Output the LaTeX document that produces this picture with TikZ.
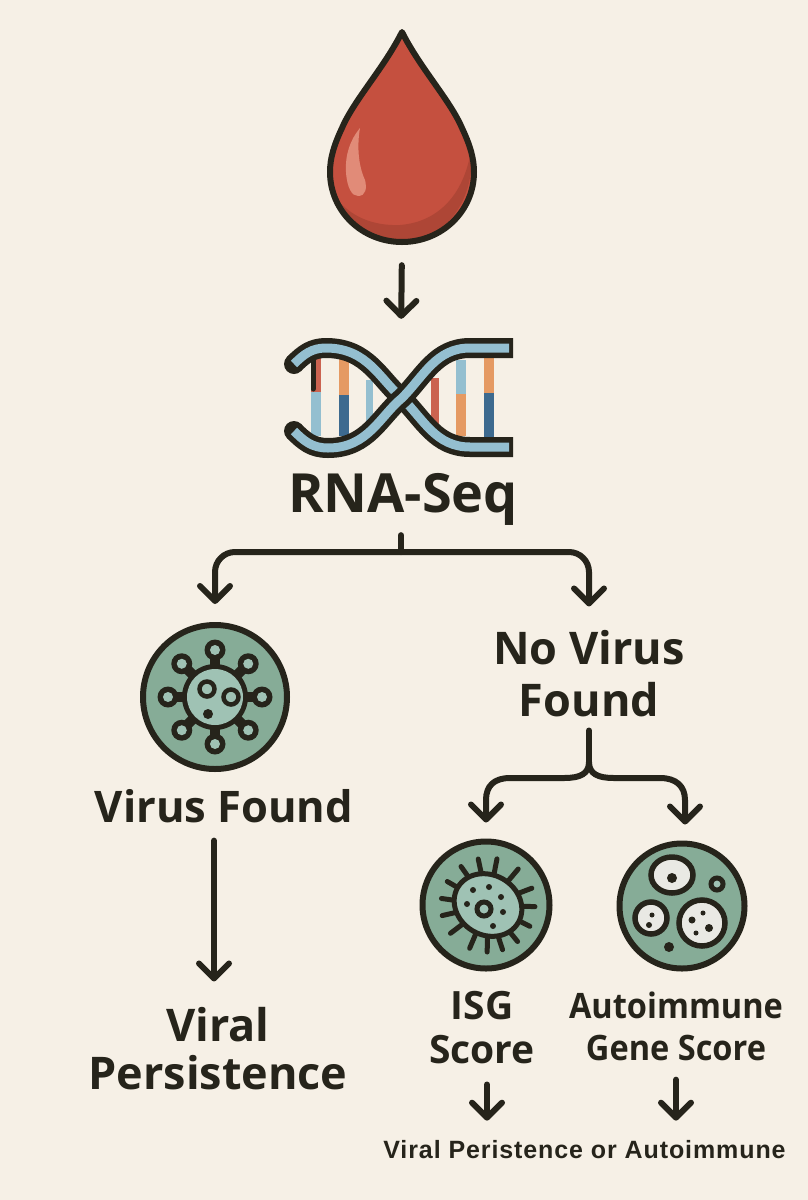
\documentclass[tikz,border=0pt]{standalone}
\usepackage{fontspec}
\setmainfont{Open Sans}
\newfontfamily\arialf[LetterSpace=3.6]{Liberation Sans}
\newfontfamily\narrowf[FakeStretch=0.93]{Open Sans}
\usetikzlibrary{arrows.meta}
\definecolor{ink}{HTML}{26241B}
\definecolor{paper}{HTML}{F6F0E6}
\definecolor{blood}{HTML}{C5503F}
\definecolor{bloodd}{HTML}{AE4636}
\definecolor{bloodl}{HTML}{E18B78}
\definecolor{green}{HTML}{86AC97}
\definecolor{greenl}{HTML}{9FC2B4}
\definecolor{cellw}{HTML}{E9E9E4}
\definecolor{sky}{HTML}{94BFD0}
\definecolor{navy}{HTML}{3D6A8F}
\definecolor{orng}{HTML}{E59A63}
\definecolor{redb}{HTML}{CB6350}
\tikzset{
  x=1pt,y=-1pt,
  flow/.style={draw=ink,line width=6pt,line cap=round,line join=round,-{Straight Barb[length=15pt,width=30pt,round]}},
  stem/.style={draw=ink,line width=6pt,line cap=round,line join=round},
  lab/.style 2 args={text=ink,inner sep=0pt,align=center,font=\bfseries\fontsize{#1}{#2}\selectfont},
  disc/.style={circle,draw=ink,fill=green,line width=6pt,inner sep=0pt,minimum size=#1},
  box/.style={inner sep=0pt,minimum width=#1},
  cellb/.style={draw=ink,fill=cellw,line width=5.5pt},
  strandk/.style={draw=ink,line width=20pt,line cap=butt,line join=round},
  strandb/.style={draw=sky,line width=9pt,line cap=butt,line join=round}
}
\newcommand{\dropshape}{(402,32) .. controls (384,68) and (354,100) .. (342,128) .. controls (334,145) and (330,158) .. (330,172) .. controls (330,211) and (362,242) .. (402,242) .. controls (442,242) and (474,211) .. (474,172) .. controls (474,158) and (470,145) .. (462,128) .. controls (450,100) and (420,68) .. (402,32) -- cycle}
\newcommand{\strandA}{(294,364) .. controls (304,354) and (312,348) .. (326,348) .. controls (368,348) and (380,380) .. (402,398) .. controls (424,420) and (436,447) .. (470,447) -- (513,447)}
\newcommand{\strandAb}{(294,364) .. controls (304,354) and (312,348) .. (326,348) .. controls (368,348) and (380,380) .. (402,398) .. controls (424,420) and (436,447) .. (470,447) -- (509,447)}
\newcommand{\strandB}{(294,431) .. controls (304,441) and (312,448) .. (328,448) .. controls (368,448) and (380,416) .. (402,398) .. controls (424,376) and (436,348) .. (470,348) -- (513,348)}
\newcommand{\strandBb}{(294,431) .. controls (304,441) and (312,448) .. (328,448) .. controls (368,448) and (380,416) .. (402,398) .. controls (424,376) and (436,348) .. (470,348) -- (509,348)}
\begin{document}
\begin{tikzpicture}
\useasboundingbox[fill=paper] (0,0) rectangle (808,1200);

% blood drop
\node[box=146,minimum height=216] (drop) at (402,137) {};
\fill[blood] \dropshape;
\fill[bloodd] (471,150) .. controls (476,205) and (440,242) .. (402,242) .. controls (375,242) and (345,228) .. (334,195) .. controls (350,218) and (375,226) .. (400,225) .. controls (438,222) and (464,195) .. (471,150) -- cycle;
\fill[bloodl] (360,128) .. controls (350,140) and (345,155) .. (346,172) .. controls (347,188) and (352,196) .. (358,196) .. controls (366,196) and (367,188) .. (365,180) .. controls (358,165) and (357,145) .. (360,128) -- cycle;
\draw[ink,line width=6pt,line join=round] \dropshape;

% DNA helix
\node[box=226,minimum height=114] (dna) at (401,396) {};
\fill[redb] (311,356) rectangle (321,392);
\fill[sky] (311,392) rectangle (321,436);
\fill[orng] (339,356) rectangle (349,395);
\fill[navy] (339,395) rectangle (349,436);
\fill[sky] (366,380) rectangle (373,424);
\fill[redb] (431,378) rectangle (439,424);
\fill[sky] (456,360) rectangle (466,394);
\fill[orng] (456,394) rectangle (466,436);
\fill[orng] (484,356) rectangle (494,393);
\fill[navy] (484,393) rectangle (494,438);
\draw[ink,line width=5pt,line cap=round] (313,358) -- (313,389);
\fill[ink] (294,364) circle (10);
\fill[ink] (294,431) circle (10);
\draw[strandk] \strandA;
\draw[strandb] \strandAb;
\draw[strandk] \strandB;
\draw[strandb] \strandBb;

% RNA-Seq text
\node[lab={54}{60},anchor=base] (rna) at (403,512) {RNA-Seq};
\coordinate (jr) at (401,552);

% virus icon
\node[disc=144] (virus) at (215,697) {};
\foreach \a in {0,45,...,315}{
  \draw[ink,line width=10pt] ({215+25*cos(\a)},{697-25*sin(\a)}) -- ({215+45*cos(\a)},{697-45*sin(\a)});
  \fill[ink] ({215+47*cos(\a)},{697-47*sin(\a)}) circle (10.5);
}
\fill[ink] (215,697) circle (33);
\foreach \a in {0,45,...,315}{
  \fill[greenl] ({215+47*cos(\a)},{697-47*sin(\a)}) circle (5);
}
\fill[greenl] (215,697) circle (28);
\draw[ink,fill=greenl,line width=4.5pt] (207,689) circle (7.5);
\draw[ink,fill=greenl,line width=4.5pt] (231,697) circle (7.5);
\fill[ink] (208,714) circle (5);

% labels left
\node[lab={43.5}{50},anchor=base] (found) at (224,822) {Virus Found};
\node[lab={45}{48}] (persist) at (218,1049) {Viral\\Persistence};

% no virus
\node[lab={45}{52}] (novirus) at (589,674) {No Virus\\Found};
\coordinate (jn) at (589,762);

% ISG icon
\node[disc=127] (isgc) at (486,905) {};
\foreach \a in {125,102,79,50,21,-2,-27,-51,-72,-91,-113,-143,-167,172,150}{
  \draw[ink,line width=5pt,line cap=round] ({488+28*cos(\a)},{905-28*sin(\a)}) -- ({488+47*cos(\a)},{905-47*sin(\a)});
}
\draw[ink,fill=greenl,line width=5pt,rotate around={-30:(488,905)}] (488,905) ellipse (35 and 30);
\draw[ink,fill=greenl,line width=5pt] (484,909) circle (7);
\foreach \p in {(473,890),(489,887),(501,897),(467,904),(503,912),(493,926)}{\fill[ink] \p circle (3);}

% Autoimmune icon
\node[disc=125] (autoc) at (682,906) {};
\draw[cellb] (672,875) ellipse (21 and 18);
\fill[ink] (672,878) circle (5);
\draw[ink,fill=greenl,line width=5pt] (717,884) circle (6);
\draw[cellb] (651,918) ellipse (16 and 16);
\fill[ink] (652,915) circle (2.5);
\fill[ink] (649,925) circle (3);
\draw[cellb] (702,923) ellipse (23 and 23);
\fill[ink] (703,913) circle (2.5);
\fill[ink] (692,920) circle (3.5);
\fill[ink] (709,928) circle (4);
\fill[ink] (696,933) circle (2.5);
\fill[ink] (669,947) circle (5);

% score labels
\node[lab={39}{44}] (isg) at (482,1028) {ISG\\Score};
\node[text=ink,inner sep=0pt,align=center,font=\narrowf\bfseries\fontsize{35}{42}\selectfont] (autol) at (676,1026) {Autoimmune\\Gene Score};
\node[text=ink,inner sep=0pt,anchor=base,font=\arialf\bfseries\fontsize{25}{28}\selectfont] (out) at (584.5,1158) {Viral Peristence or Autoimmune};

% connectors
\draw[flow,shorten <=20pt,shorten >=20pt] (drop.south) -- (dna.north);
\draw[stem,shorten <=10pt] (rna.south -| jr) -- (jr);
\draw[flow,rounded corners=20pt,shorten >=18pt] (jr) -| (virus.north);
\draw[flow,rounded corners=20pt,shorten >=24pt] (jr) -| (novirus.north);
\draw[stem,shorten <=13pt] (novirus.south) -- (jn);
\draw[flow,shorten >=16pt] (jn) .. controls (589,774) and (580,778) .. (564,778) -- (510,778) .. controls (494,778) and (486,786) .. (486,800) -- (isgc.north);
\draw[flow,shorten >=16pt] (jn) .. controls (589,774) and (598,778) .. (614,778) -- (660,778) .. controls (676,778) and (685,786) .. (685,800) -- ([xshift=3pt]autoc.north);
\draw[flow,shorten <=18pt,shorten >=26pt] ([xshift=-10pt]found.south) -- ([xshift=-10pt]found.south |- persist.north);
\draw[flow,shorten <=20pt,shorten >=19pt] ([xshift=5pt]isg.south) -- ([xshift=5pt]isg.south |- out.north);
\draw[flow,shorten <=19pt,shorten >=19pt] (autol.south) -- (autol.south |- out.north);
\end{tikzpicture}
\end{document}
